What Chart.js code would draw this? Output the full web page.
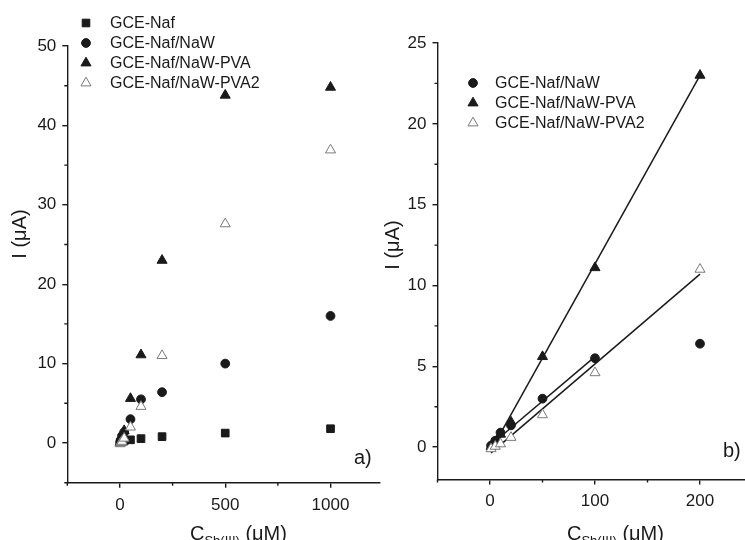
<!DOCTYPE html>
<html>
<head>
<meta charset="utf-8">
<script src="https://cdn.jsdelivr.net/npm/chart.js@4.4.1/dist/chart.umd.min.js"></script>
<style>
  html, body { margin: 0; padding: 0; background: #fff; overflow: hidden; }
  #wrap { position: relative; width: 745px; height: 540px; overflow: hidden; background: #fff; }
  #c1 { position: absolute; left: 0; top: 0; }
  #c2 { position: absolute; left: 370px; top: 0; }
</style>
</head>
<body>
<div id="wrap">
  <canvas id="c1" width="400" height="540"></canvas>
  <canvas id="c2" width="390" height="540"></canvas>
</div>
<script>
// Sb(III) concentrations (µM) and peak currents (µA) for each electrode
const concentrations = [1, 5, 10, 20, 50, 100, 200, 500, 1000];
const currentNaf     = [0.05, 0.1, 0.15, 0.25, 0.4, 0.55, 0.8, 1.25, 1.8];
const currentNaW     = [0.1, 0.4, 0.9, 1.35, 3.0, 5.5, 6.4, 10.0, 16.0];
const currentPVA     = [0.05, 0.3, 0.8, 1.55, 5.6, 11.1, 23.0, 43.8, 44.8];
const currentPVA2    = [-0.1, 0.05, 0.2, 0.6, 2.0, 4.6, 11.0, 27.6, 36.9];

// Linear-range calibration lines (end points, µM / µA)
const fitNaWX  = [1, 100];   const fitNaWY  = [0.15, 5.6];
const fitPVAX  = [1, 200];   const fitPVAY  = [-0.2, 23.0];
const fitPVA2X = [1, 200];   const fitPVA2Y = [-0.35, 10.7];

// Series names
const nameNaf  = 'GCE-Naf';
const nameNaW  = 'GCE-Naf/NaW';
const namePVA  = 'GCE-Naf/NaW-PVA';
const namePVA2 = 'GCE-Naf/NaW-PVA2';

// Tick values
const ticksAx = [0, 500, 1000];          const minorAx = [-250, 250, 750];
const ticksAy = [0, 10, 20, 30, 40, 50]; const minorAy = [-5, 5, 15, 25, 35, 45];
const ticksBx = [0, 100, 200];           const minorBx = [-50, 50, 150, 250];
const ticksBy = [0, 5, 10, 15, 20, 25];  const minorBy = [2.5, 7.5, 12.5, 17.5, 22.5];

const INK = '#1a1a1a';
const FONT = '"Liberation Sans", Arial, Helvetica, sans-serif';

const markerStyle = {
  [nameNaf]:  { pointStyle: 'rect',     radius: 5.4, fill: INK,   stroke: INK,  width: 1 },
  [nameNaW]:  { pointStyle: 'circle',   radius: 4.4, fill: INK,   stroke: INK,  width: 1 },
  [namePVA]:  { pointStyle: 'triangle', radius: 5.8, fill: INK,   stroke: INK,  width: 1 },
  [namePVA2]: { pointStyle: 'triangle', radius: 5.8, fill: '#fff', stroke: '#7a7a7a', width: 1 }
};

function points(xs, ys, maxX) {
  const out = [];
  xs.forEach((x, i) => { if (x <= maxX) out.push({ x: x, y: ys[i] }); });
  return out;
}

function scatterSet(name, ys, maxX, order) {
  const s = markerStyle[name];
  return {
    label: name,
    data: points(concentrations, ys, maxX),
    showLine: false,
    pointStyle: s.pointStyle,
    pointRadius: s.radius,
    pointHoverRadius: s.radius,
    pointBackgroundColor: s.fill,
    pointBorderColor: s.stroke,
    pointBorderWidth: s.width,
    order: order
  };
}

function fitSet(xs, ys) {
  return {
    label: '',
    data: points(xs, ys, Infinity),
    showLine: true,
    borderColor: INK,
    borderWidth: 1.5,
    pointRadius: 0,
    pointHoverRadius: 0,
    fill: false,
    order: 10
  };
}

function axis(min, max, majors, isX, size) {
  return {
    type: 'linear',
    min: min,
    max: max,
    afterBuildTicks: s => { s.ticks = majors.map(v => ({ value: v })); },
    afterFit: s => { if (isX) { s.height = size; } else { s.width = size; } },
    grid: { display: true, drawOnChartArea: false, drawTicks: true, tickLength: 5, color: INK, lineWidth: 1.4 },
    border: { display: true, color: INK, width: 1.4 },
    ticks: {
      color: INK,
      font: { family: FONT, size: 17 },
      padding: isX ? 7 : 6,
      maxRotation: 0,
      autoSkip: false,
      callback: v => String(v)
    }
  };
}

// Minor ticks, axis titles, panel letter and legend
function decorations(cfg) {
  return {
    id: 'decor_' + cfg.letter,
    afterDraw(chart) {
      const ctx = chart.ctx;
      const xs = chart.scales.x, ys = chart.scales.y;
      const area = chart.chartArea;
      ctx.save();
      ctx.strokeStyle = INK;
      ctx.lineWidth = 1.4;
      ctx.beginPath();
      cfg.minorX.forEach(v => {
        const px = xs.getPixelForValue(v);
        ctx.moveTo(px, area.bottom);
        ctx.lineTo(px, area.bottom + 3);
      });
      cfg.minorY.forEach(v => {
        const py = ys.getPixelForValue(v);
        ctx.moveTo(area.left, py);
        ctx.lineTo(area.left - 3, py);
      });
      ctx.stroke();

      ctx.fillStyle = INK;
      // y title
      ctx.save();
      ctx.translate(cfg.yTitle[0], cfg.yTitle[1]);
      ctx.rotate(-Math.PI / 2);
      ctx.font = '20px ' + FONT;
      ctx.textAlign = 'center';
      ctx.textBaseline = 'middle';
      ctx.fillText('I (\u03bcA)', 0, 0);
      ctx.restore();

      // x title with subscript
      let x = cfg.xTitle[0];
      const base = cfg.xTitle[1];
      ctx.textAlign = 'left';
      ctx.textBaseline = 'alphabetic';
      ctx.font = '20px ' + FONT;
      ctx.fillText('C', x, base);
      x += ctx.measureText('C').width;
      ctx.font = '13px ' + FONT;
      ctx.fillText('Sb(III)', x, base + 5);
      x += ctx.measureText('Sb(III)').width;
      ctx.font = '20px ' + FONT;
      ctx.fillText(' (\u03bcM)', x, base);

      // panel letter
      ctx.font = '20px ' + FONT;
      ctx.fillText(cfg.letter, cfg.letterPos[0], cfg.letterPos[1]);

      // legend
      ctx.font = '16px ' + FONT;
      ctx.textBaseline = 'middle';
      cfg.legend.forEach((name, i) => {
        const s = markerStyle[name];
        const y = cfg.legendPos[1] + i * 20;
        const opts = { pointStyle: s.pointStyle, radius: s.radius, borderWidth: s.width, rotation: 0 };
        ctx.fillStyle = s.fill;
        ctx.strokeStyle = s.stroke;
        ctx.lineWidth = s.width;
        Chart.helpers.drawPoint(ctx, opts, cfg.legendPos[0], y);
        ctx.fillStyle = INK;
        ctx.fillText(name, cfg.legendPos[2], y + 1);
      });
      ctx.restore();
    }
  };
}

const common = {
  responsive: false,
  animation: false,
  events: [],
  plugins: { legend: { display: false }, tooltip: { enabled: false } }
};

// Panel a: full concentration range
new Chart(document.getElementById('c1'), {
  type: 'scatter',
  data: {
    datasets: [
      scatterSet(namePVA2, currentPVA2, Infinity, 0),
      scatterSet(namePVA, currentPVA, Infinity, 1),
      scatterSet(nameNaW, currentNaW, Infinity, 2),
      scatterSet(nameNaf, currentNaf, Infinity, 3)
    ]
  },
  options: Object.assign({}, common, {
    layout: { padding: { left: 0, top: 46, right: 20, bottom: 0 } },
    scales: {
      x: axis(-250, 1235, ticksAx, true, 57.3),
      y: axis(-5, 50, ticksAy, false, 67.3)
    }
  }),
  plugins: [decorations({
    letter: 'a)', letterPos: [354, 464],
    minorX: minorAx, minorY: minorAy,
    yTitle: [20, 234], xTitle: [190, 540],
    legend: [nameNaf, nameNaW, namePVA, namePVA2], legendPos: [86, 23, 110]
  })]
});

// Panel b: linear range up to 200 µM
new Chart(document.getElementById('c2'), {
  type: 'scatter',
  data: {
    datasets: [
      scatterSet(namePVA2, currentPVA2, 200, 0),
      scatterSet(namePVA, currentPVA, 200, 1),
      scatterSet(nameNaW, currentNaW, 200, 2),
      fitSet(fitNaWX, fitNaWY),
      fitSet(fitPVAX, fitPVAY),
      fitSet(fitPVA2X, fitPVA2Y)
    ]
  },
  options: Object.assign({}, common, {
    layout: { padding: { left: 0, top: 43, right: 7.5, bottom: 0 } },
    scales: {
      x: axis(-50, 250, ticksBx, true, 60.5),
      y: axis(-2, 25, ticksBy, false, 67.5)
    }
  }),
  plugins: [decorations({
    letter: 'b)', letterPos: [353, 457],
    minorX: minorBx, minorY: minorBy,
    yTitle: [23, 245], xTitle: [197, 540],
    legend: [nameNaW, namePVA, namePVA2], legendPos: [103, 83, 125]
  })]
});
</script>
</body>
</html>
